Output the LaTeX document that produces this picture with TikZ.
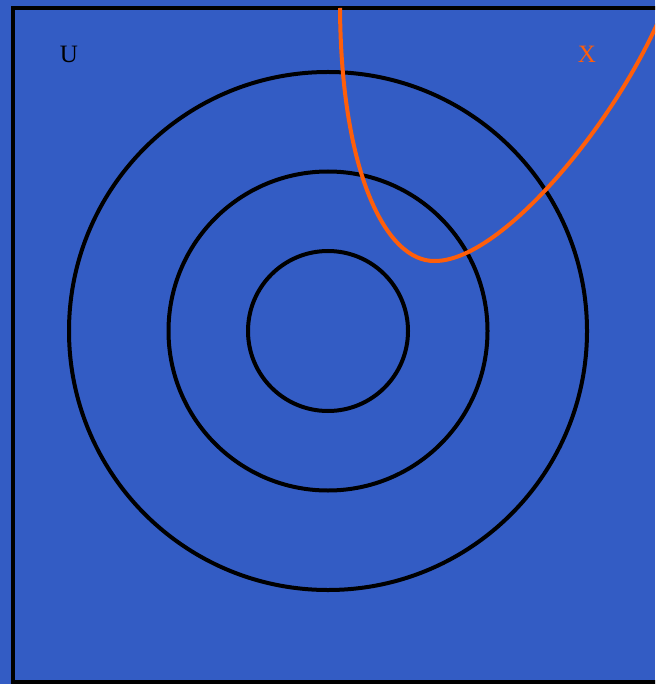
\documentclass[tikz,border=0pt]{standalone}
\usepackage{fontspec}
\setmainfont{Liberation Serif}
\usepackage{tikz}
\definecolor{setblue}{RGB}{51, 92, 196}
\definecolor{curveorange}{RGB}{255, 94, 10}

\begin{document}
\begin{tikzpicture}[x=1pt, y=-1pt, font=\fontsize{25}{28}\selectfont]
  \useasboundingbox (0,0) rectangle (655,684);
  \clip (0,0) rectangle (655,684);
  \fill[setblue] (0,0) rectangle (655,684);
  \draw[line width=3.8pt] (13,8) rectangle (670,682);
  \coordinate (c) at (328,331);
  \draw[line width=4pt] (c) circle (259);
  \draw[line width=4pt] (c) circle (159.5);
  \draw[line width=4pt] (c) circle (80);
  \draw[curveorange, line width=4pt] (340,8) .. controls (341,170) and (385,262) .. (435,261)
    .. controls (500,261) and (610,130) .. (658,22);
  \node (u) at (69,54) {U};
  \node[text=curveorange] (x) at (587,54) {X};
\end{tikzpicture}
\end{document}
